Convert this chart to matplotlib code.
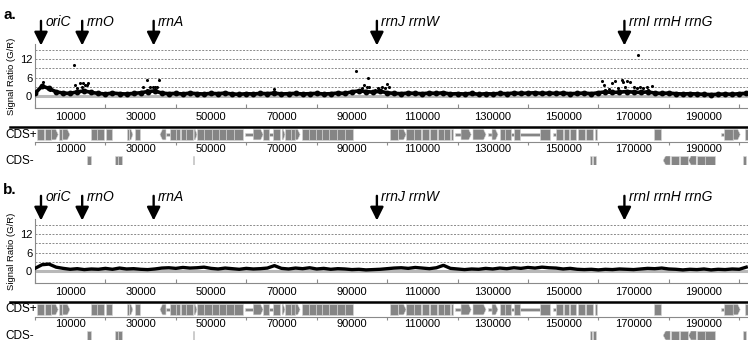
import numpy as np
import matplotlib
matplotlib.use('Agg')
import matplotlib.pyplot as plt
from matplotlib.patches import Polygon, Rectangle
from matplotlib.lines import Line2D

plt.rcParams['font.family'] = ['Liberation Sans', 'DejaVu Sans']

W, H = 748, 350
STEP = 2000          # probe bin size in bp
GENOME_END = 202500  # right edge of the view

# signal ratio G/R, one value per 2 kb bin
ratio_a = [0.8, 3.2, 2.4, 1.3, 0.9, 0.8, 1.3, 1.6, 1.1, 0.8,
           0.6, 0.9, 0.7, 0.6, 0.8, 1.0, 1.4, 1.6, 0.9, 0.7,
           0.8, 0.6, 0.9, 0.7, 0.6, 0.8, 0.7, 0.9, 0.6, 0.5,
           0.7, 0.6, 0.8, 0.7, 0.9, 0.6, 0.7, 0.8, 0.6, 0.7,
           0.8, 0.6, 0.7, 0.9, 0.8, 1.3, 1.6, 1.4, 1.2, 1.5,
           1.0, 0.8, 0.7, 0.9, 0.8, 0.7, 0.9, 0.8, 1.0, 0.6,
           0.7, 0.6, 0.8, 0.5, 0.7, 0.6, 0.8, 0.7, 0.9, 0.8,
           0.9, 1.0, 0.8, 0.9, 0.8, 0.9, 0.7, 0.8, 0.9, 0.7,
           1.0, 1.3, 1.1, 1.2, 1.4, 1.2, 1.1, 1.3, 0.9, 0.8,
           0.9, 0.7, 0.6, 0.7, 0.6, 0.5, 0.4, 0.5, 0.6, 0.5,
           0.7, 0.8]
ratio_b = [0.8, 2.0, 2.2, 1.2, 0.8, 0.5, 0.7, 0.4, 0.6, 0.5,
           0.8, 0.5, 0.9, 0.6, 0.7, 0.5, 0.4, 0.6, 0.9, 1.0,
           0.8, 1.1, 0.9, 1.0, 1.2, 0.8, 0.6, 0.9, 0.7, 0.5,
           0.8, 0.6, 0.7, 0.9, 1.7, 0.8, 0.6, 0.9, 0.7, 1.0,
           0.6, 0.8, 0.5, 0.7, 0.6, 0.4, 0.5, 0.3, 0.4, 0.5,
           0.7, 0.9, 1.0, 0.8, 1.1, 0.9, 0.7, 1.0, 1.8, 0.8,
           0.6, 0.4, 0.6, 0.5, 0.8, 0.6, 0.9, 0.7, 1.0, 0.8,
           1.1, 0.9, 1.2, 1.0, 0.9, 0.6, 0.8, 0.5, 0.4, 0.5,
           0.3, 0.5, 0.4, 0.6, 0.5, 0.4, 0.6, 0.8, 0.7, 0.9,
           0.6, 0.5, 0.3, 0.5, 0.4, 0.6, 0.3, 0.5, 0.4, 0.6,
           0.5, 1.2]

# scattered high probes around oriC and the rrn operons (panel a)
spot_pos = [1900, 2400, 3300, 4300,
            11200, 11400, 11900, 12800, 13300, 13600, 13700, 14200, 14700, 15100,
            30800, 31700, 31900, 32700, 33600, 34100, 34600, 35100,
            67900, 91200, 92800, 93300, 94200, 94500, 95000, 96600, 97500, 98500,
            99400, 99900, 100400,
            161000, 161500, 161900, 162900, 163800, 164800, 165700, 166800, 167100,
            167600, 168100, 169000, 170000, 170900, 171400, 171900, 172800, 173800,
            174200, 175200]
spot_val = [3.0, 4.4, 3.0, 2.0,
            10.2, 3.6, 2.5, 4.2, 3.0, 2.0, 4.2, 3.6, 3.6, 4.2,
            2.8, 5.2, 2.0, 3.0, 2.8, 3.0, 2.8, 5.1,
            2.2, 8.3, 2.5, 3.6, 3.0, 5.8, 3.0, 2.0, 2.5, 3.0,
            2.5, 3.9, 3.0,
            5.0, 3.6, 2.0, 2.2, 4.2, 4.7, 2.5, 5.2, 4.4,
            3.0, 4.7, 4.4, 3.0, 2.5, 13.3, 3.0, 2.5, 3.0,
            2.0, 3.2]

marker_pos = [1700, 13400, 33700, 97100, 167400]
marker_names = ['oriC', 'rrnO', 'rrnA', 'rrnJ rrnW', 'rrnI rrnH rrnG']

# genes as (start, end, shape): 0 box, 1 arrow right, -1 arrow left, 2 thin
cds_plus = [(600, 2600, 0), (2700, 4600, 0), (4700, 6600, 1), (6800, 7800, 0), (7900, 9900, 1),
            (15900, 17500, 0), (17700, 19500, 0), (20200, 21900, 0),
            (26000, 26700, 0), (26900, 27800, 1), (28400, 29800, 0),
            (35500, 37200, -1), (37200, 38400, 2), (38400, 40000, 0), (40100, 41300, 0),
            (41400, 42800, 0), (42900, 44800, 0),
            (45200, 46000, 1), (46100, 48000, 0), (48100, 50200, 0), (50300, 52300, 0),
            (52400, 54200, 0), (54300, 56500, 0), (56600, 59100, 0),
            (59700, 62000, 2), (62000, 64800, 1), (64800, 66500, 0), (66500, 67500, 2),
            (67500, 69600, 0), (70200, 71000, 1), (71100, 72700, 0), (72800, 73800, 0),
            (73900, 75300, 1), (75900, 77800, 0), (77900, 79700, 0), (79800, 81500, 0),
            (81600, 83500, 0), (83600, 85800, 0), (85900, 88000, 0), (88100, 90300, 0),
            (100900, 103200, 0), (103300, 105400, 1), (105500, 107500, 0), (107600, 109700, 0),
            (109800, 112000, 0), (112100, 114300, 0), (114400, 116200, 0), (116300, 117900, 0),
            (118100, 118600, 0), (119300, 121000, 2), (121000, 123900, 1), (124400, 128100, 1),
            (128700, 129800, 2), (129800, 131500, 1), (132100, 133500, 0), (133600, 135200, 0),
            (135200, 136000, 2), (136000, 137800, 0), (137800, 143500, 2), (143500, 146300, 0),
            (147200, 148000, 2), (148000, 150000, 0), (150100, 151800, 0), (151900, 153700, 0),
            (154300, 156300, 0), (156400, 158500, 0), (159100, 159500, 0),
            (175900, 177800, 0), (194900, 195800, 2), (195800, 198200, 0), (198300, 200300, 1),
            (201700, 202500, 0)]
cds_minus = [(14800, 15900, 0), (22700, 23500, 0), (23600, 24700, 0), (44900, 45200, 0),
             (157700, 158200, 0), (158400, 159400, 0),
             (178400, 180400, -1), (180500, 183000, 0), (183100, 185500, 0),
             (185600, 187800, -1), (187900, 190200, 0), (190300, 193000, 0),
             (201100, 202000, 0)]

GENE_GREY = '#858585'
GRID_GREY = '#8a8a8a'


def px_axes(fig, left, top, right, bottom):
    return fig.add_axes([left / W, 1 - bottom / H, (right - left) / W, (bottom - top) / H])


def set_bp_ticks(ax, pad):
    ax.set_xlim(0, GENOME_END)
    ax.set_xticks(np.arange(0, GENOME_END, 20000))
    ax.set_xticks(np.arange(10000, GENOME_END, 20000), minor=True)
    ax.set_xticklabels([])
    ax.set_xticklabels([str(v) for v in range(10000, int(GENOME_END), 20000)], minor=True)
    ax.tick_params(axis='x', which='minor', length=0, labelsize=8, pad=pad)


def draw_gene(ax, start, end, kind, y0, y1):
    head = min(700, (end - start) * 0.6)
    ym = (y0 + y1) / 2
    if kind == 2:
        h = (y1 - y0) * 0.3
        patch = Rectangle((start, ym - h / 2), end - start, h)
    elif kind == 1:
        patch = Polygon([(start, y0), (end - head, y0), (end, ym), (end - head, y1), (start, y1)])
    elif kind == -1:
        patch = Polygon([(start, ym), (start + head, y0), (end, y0), (end, y1), (start + head, y1)])
    else:
        patch = Rectangle((start, y0), end - start, y1 - y0)
    patch.set_facecolor(GENE_GREY)
    patch.set_edgecolor('#d8d8d8')
    patch.set_linewidth(0.4)
    ax.add_patch(patch)


def draw_panel(fig, dy, letter, ratio, spots):
    # signal axes
    ax = px_axes(fig, 35, 44 + dy, 748, 108 + dy)
    ax.set_ylim(-4, 17)
    for v in [3, 6, 9, 12, 15]:
        ax.axhline(v, color=GRID_GREY, lw=0.7, ls=(0, (2, 1.5)), zorder=1)
    ax.axhline(0, color='#b8b8b8', lw=2.2, zorder=1)
    x = np.arange(len(ratio)) * STEP
    if spots:
        ax.plot(x, ratio, color='black', lw=2.6, marker='o', ms=3.2, zorder=3)
        ax.scatter(spot_pos, spot_val, s=5, color='black', zorder=4, linewidths=0)
    else:
        ax.plot(x, ratio, color='black', lw=2.4, zorder=3)
    set_bp_ticks(ax, pad=3)
    ax.tick_params(axis='x', which='major', direction='in', length=3, color=GRID_GREY)
    ax.set_yticks([0, 6, 12])
    ax.tick_params(axis='y', length=0, labelsize=8, pad=2)
    for s in ['top', 'right']:
        ax.spines[s].set_visible(False)
    ax.spines['left'].set_color(GRID_GREY)
    ax.spines['left'].set_linewidth(0.8)
    ax.spines['bottom'].set_color(GRID_GREY)
    ax.spines['bottom'].set_linewidth(0.8)

    # operon markers
    for pos, name in zip(marker_pos, marker_names):
        ax.annotate('', xy=(pos, 16.5), xytext=(pos, 24.6), annotation_clip=False,
                    arrowprops=dict(arrowstyle='-|>,head_length=0.8,head_width=0.4',
                                    color='black', lw=1.7, mutation_scale=10,
                                    shrinkA=0, shrinkB=0))
        ax.annotate(name, xy=(pos, 24.3), xytext=(3, 0), textcoords='offset points',
                    ha='left', va='center', style='italic', fontsize=10,
                    annotation_clip=False)

    fig.text(3 / W, 1 - (15 + dy) / H, letter, fontsize=11, fontweight='bold',
             ha='left', va='center')
    fig.text(12 / W, 1 - (76 + dy) / H, 'Signal Ratio (G/R)', rotation=90,
             fontsize=6.8, ha='center', va='center')

    # gene tracks
    fig.add_artist(Line2D([10 / W, 1], [1 - (127 + dy) / H] * 2, color='black', lw=1.8))
    tp = px_axes(fig, 35, 128 + dy, 748, 141.5 + dy)
    tp.set_ylim(0, 1)
    for g in cds_plus:
        draw_gene(tp, g[0], g[1], g[2], 0.12, 0.9)
    set_bp_ticks(tp, pad=1.5)
    tp.tick_params(axis='x', which='major', direction='out', length=2, color=GRID_GREY)
    tp.set_yticks([])
    for s in ['top', 'right', 'left']:
        tp.spines[s].set_visible(False)
    tp.spines['bottom'].set_color(GRID_GREY)
    tp.spines['bottom'].set_linewidth(0.8)

    tm = px_axes(fig, 35, 156 + dy, 748, 165 + dy)
    tm.set_xlim(0, GENOME_END)
    tm.set_ylim(0, 1)
    for g in cds_minus:
        draw_gene(tm, g[0], g[1], g[2], 0, 1)
    tm.axis('off')

    fig.text(5 / W, 1 - (134.5 + dy) / H, 'CDS+', fontsize=8.5, ha='left', va='center')
    fig.text(5 / W, 1 - (161 + dy) / H, 'CDS-', fontsize=8.5, ha='left', va='center')


fig = plt.figure(figsize=(W / 100, H / 100), dpi=100)
draw_panel(fig, 0, 'a.', ratio_a, True)
draw_panel(fig, 175, 'b.', ratio_b, False)
fig.savefig('out.png', dpi=100)
